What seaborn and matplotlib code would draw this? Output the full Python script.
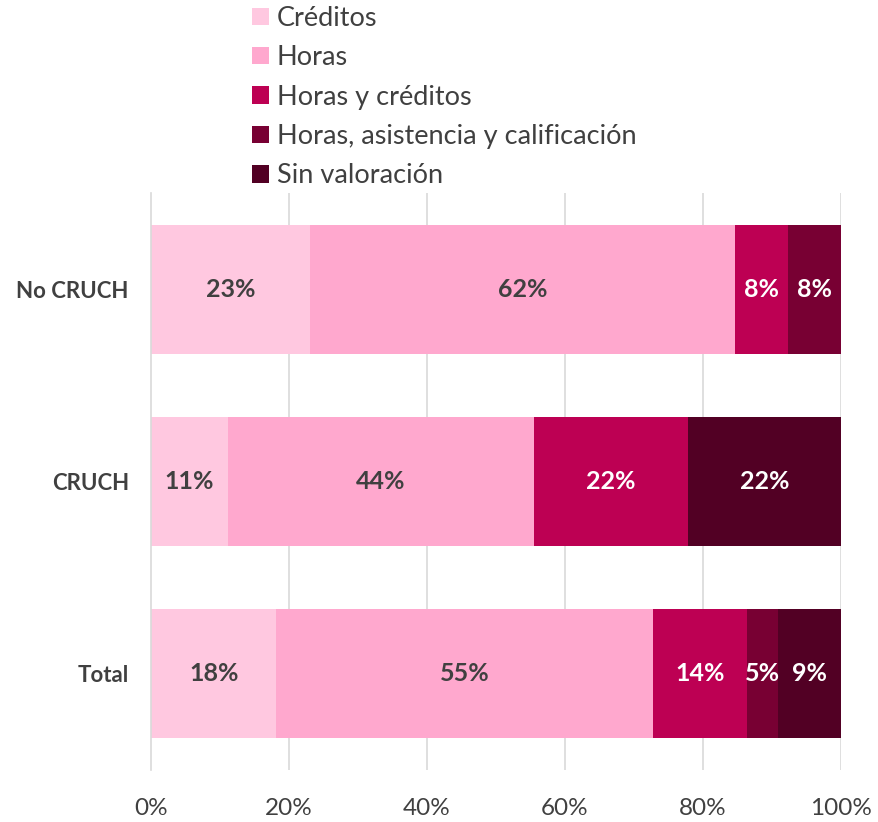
import numpy as np
import pandas as pd
import matplotlib
matplotlib.use("Agg")
import matplotlib.pyplot as plt
import seaborn as sns
from matplotlib.patches import Patch

# data (percent of institutions in each group)
groups = ["No CRUCH", "CRUCH", "Total"]
series = ["Créditos", "Horas", "Horas y créditos",
          "Horas, asistencia y calificación", "Sin valoración"]
creditos = [23.08, 11.11, 18.18]
horas = [61.54, 44.44, 54.55]
horas_creditos = [7.69, 22.22, 13.64]
horas_asist = [7.69, 0.0, 4.55]
sin_valoracion = [0.0, 22.22, 9.09]

colors = ["#FFC8E0", "#FFA8CE", "#BD0053", "#780033", "#520024"]
label_colors = ["#404040", "#404040", "white", "white", "white"]

df = pd.DataFrame({"grupo": groups, series[0]: creditos, series[1]: horas,
                   series[2]: horas_creditos, series[3]: horas_asist,
                   series[4]: sin_valoracion})
cum = df[series].cumsum(axis=1)

sns.set_style("white")
plt.rcParams["font.family"] = ["Lato", "DejaVu Sans"]

fig = plt.figure(figsize=(8.79, 8.22), dpi=100)
ax = fig.add_axes([151/879, 1 - 770/822, 690/879, 577/822])

# stacked bars: draw cumulative totals from the last series back to the first
for i in range(len(series) - 1, -1, -1):
    sns.barplot(data=cum.assign(grupo=df["grupo"]), x=series[i], y="grupo",
                order=groups, color=colors[i], width=0.67, saturation=1,
                orient="h", ax=ax, linewidth=0)

# segment labels
for gi, g in enumerate(groups):
    left = 0
    for si, s in enumerate(series):
        v = df.loc[gi, s]
        if v > 0:
            ax.text(left + v / 2, gi, f"{v:.0f}%", ha="center", va="center",
                    fontsize=18, fontweight="bold", color=label_colors[si])
        left += v

ax.set_xlim(0, 100)
ax.set_ylim(2.5, -0.5)
ax.set_xlabel("")
ax.set_ylabel("")
ax.set_xticks([0, 20, 40, 60, 80, 100])
ax.set_xticklabels(["0%", "20%", "40%", "60%", "80%", "100%"])
ax.tick_params(axis="x", length=0, labelsize=17.5, labelcolor="#404040", pad=20)
ax.set_yticks([-0.5, 0.5, 1.5, 2.5])
ax.set_yticklabels([])
ax.tick_params(axis="y", which="major", length=6, color="#d9d9d9", width=1.2)
ax.set_yticks([0, 1, 2], minor=True)
ax.set_yticklabels(groups, minor=True, fontsize=16, fontweight="bold",
                   color="#404040")
ax.tick_params(axis="y", which="minor", length=0, pad=16)

for x in [20, 40, 60, 80, 100]:
    ax.axvline(x, color="#d9d9d9", lw=1.2, zorder=0)
ax.set_axisbelow(True)
for side in ["top", "right", "bottom"]:
    ax.spines[side].set_visible(False)
ax.spines["left"].set_color("#d9d9d9")
ax.spines["left"].set_linewidth(1.2)

handles = [Patch(facecolor=c, edgecolor="none") for c in colors]
fig.legend(handles, series, loc="upper left", bbox_to_anchor=(241/879, 1.006),
           frameon=False, fontsize=19.5, handlelength=0.62, handleheight=0.62,
           handletextpad=0.3, labelspacing=0.53, labelcolor="#404040",
           borderaxespad=0.0)

fig.savefig("out.png", dpi=100)
